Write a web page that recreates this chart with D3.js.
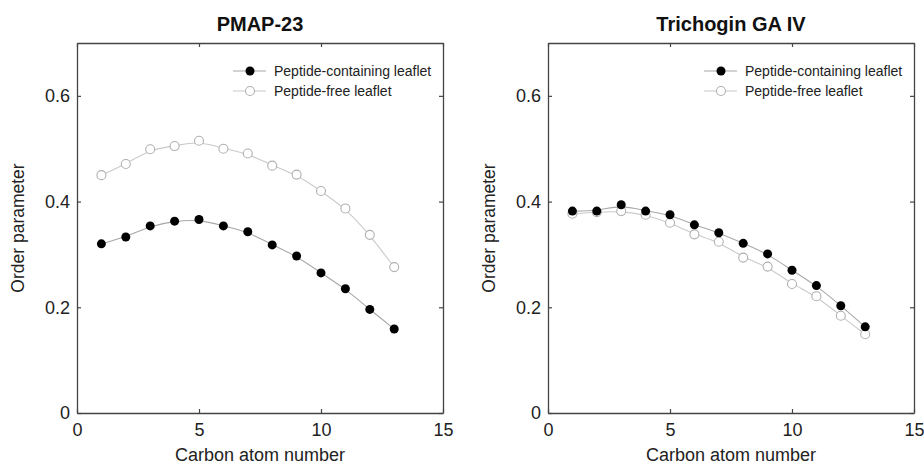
<!DOCTYPE html>
<html>
<head>
<meta charset="utf-8">
<script src="https://cdn.jsdelivr.net/npm/d3@7"></script>
<style>
  body { margin: 0; background: #fff; }
  text { font-family: "Liberation Sans", Arial, sans-serif; fill: #222; }
</style>
</head>
<body>
<div id="chart"></div>
<script>
// carbon positions along the chain
const carbonAtoms = [1, 2, 3, 4, 5, 6, 7, 8, 9, 10, 11, 12, 13];

// PMAP-23
const pmapContaining = [0.320, 0.333, 0.354, 0.363, 0.366, 0.354, 0.343, 0.318, 0.297, 0.265, 0.235, 0.196, 0.159];
const pmapFree = [0.450, 0.471, 0.499, 0.505, 0.515, 0.500, 0.491, 0.468, 0.451, 0.420, 0.387, 0.337, 0.276];

// Trichogin GA IV
const trichContaining = [0.382, 0.382, 0.394, 0.382, 0.375, 0.356, 0.341, 0.321, 0.301, 0.270, 0.241, 0.203, 0.163];
const trichFree = [0.377, 0.380, 0.382, 0.375, 0.360, 0.338, 0.324, 0.294, 0.277, 0.244, 0.221, 0.184, 0.149];

const xTicks = [0, 5, 10, 15];
const yTicks = [0, 0.2, 0.4, 0.6];
const legendLabels = ['Peptide-containing leaflet', 'Peptide-free leaflet'];

const width = 924, height = 465;
const svg = d3.select('#chart').append('svg').attr('width', width).attr('height', height);

const panels = [
  { title: 'PMAP-23', left: 77, containing: pmapContaining, free: pmapFree },
  { title: 'Trichogin GA IV', left: 548, containing: trichContaining, free: trichFree }
];

const plotTop = 43, plotBottom = 413, plotW = 366;

panels.forEach(p => {
  const x = d3.scaleLinear().domain([0, 15]).range([p.left, p.left + plotW]);
  const y = d3.scaleLinear().domain([0, 0.7]).range([plotBottom, plotTop]);

  const g = svg.append('g');

  // frame + ticks (all ticks point inward)
  const axisColor = '#444';
  const bx = g.append('g').attr('transform', `translate(0,${plotBottom})`)
    .call(d3.axisBottom(x).tickValues(xTicks).tickSizeInner(-4).tickSizeOuter(0).tickPadding(10).tickFormat(d3.format('d')));
  const lx = g.append('g').attr('transform', `translate(${p.left},0)`)
    .call(d3.axisLeft(y).tickValues(yTicks).tickSizeInner(-4).tickSizeOuter(0).tickPadding(7).tickFormat(d => d === 0 ? '0' : d3.format('.1f')(d)));
  const tx = g.append('g').attr('transform', `translate(0,${plotTop})`)
    .call(d3.axisTop(x).tickValues(xTicks).tickSizeInner(-4).tickSizeOuter(0).tickFormat(''));
  const rx = g.append('g').attr('transform', `translate(${p.left + plotW},0)`)
    .call(d3.axisRight(y).tickValues(yTicks).tickSizeInner(-4).tickSizeOuter(0).tickFormat(''));

  [bx, lx, tx, rx].forEach(a => {
    a.select('.domain').attr('stroke', axisColor).attr('stroke-width', 1.3);
    a.selectAll('.tick line').attr('stroke', axisColor).attr('stroke-width', 1.2);
    a.selectAll('.tick text').style('font-size', '18px').style('fill', '#222')
      .style('font-family', '"Liberation Sans", Arial, sans-serif');
  });

  // title
  g.append('text').attr('x', p.left + plotW / 2).attr('y', 31)
    .attr('text-anchor', 'middle').style('font-size', '20px').style('font-weight', 'bold').style('fill', '#111')
    .text(p.title);

  // axis labels
  g.append('text').attr('x', p.left + plotW / 2).attr('y', 461)
    .attr('text-anchor', 'middle').style('font-size', '18px')
    .text('Carbon atom number');
  g.append('text').attr('transform', `translate(${p.left - 59},${(plotTop + plotBottom) / 2}) rotate(-90)`)
    .attr('text-anchor', 'middle').attr('dy', '0.35em').style('font-size', '17.5px')
    .text('Order parameter');

  const line = d3.line().x((d, i) => x(carbonAtoms[i])).y(d => y(d)).curve(d3.curveBasis);

  // peptide-free (open, light gray)
  g.append('path').datum(p.free).attr('d', line)
    .attr('fill', 'none').attr('stroke', '#cacaca').attr('stroke-width', 1.1);
  g.selectAll('.free').data(p.free).join('circle').attr('class', 'free')
    .attr('cx', (d, i) => x(carbonAtoms[i])).attr('cy', d => y(d)).attr('r', 4.5)
    .attr('fill', '#fff').attr('stroke', '#b0b0b0').attr('stroke-width', 1.1);

  // peptide-containing (filled, black)
  g.append('path').datum(p.containing).attr('d', line)
    .attr('fill', 'none').attr('stroke', '#a8a8a8').attr('stroke-width', 1.1);
  g.selectAll('.cont').data(p.containing).join('circle').attr('class', 'cont')
    .attr('cx', (d, i) => x(carbonAtoms[i])).attr('cy', d => y(d)).attr('r', 4.5)
    .attr('fill', '#000');

  // legend
  const leg = g.append('g').attr('transform', `translate(${p.left},${plotTop})`);
  legendLabels.forEach((lab, i) => {
    const ly = 28 + i * 20;
    leg.append('line').attr('x1', 156).attr('x2', 189).attr('y1', ly).attr('y2', ly)
      .attr('stroke', i === 0 ? '#a8a8a8' : '#cacaca').attr('stroke-width', 1.1);
    leg.append('circle').attr('cx', 173).attr('cy', ly).attr('r', 4.5)
      .attr('fill', i === 0 ? '#000' : '#fff').attr('stroke', i === 0 ? 'none' : '#b0b0b0').attr('stroke-width', 1.1);
    leg.append('text').attr('x', 197).attr('y', ly).attr('dy', '0.35em')
      .style('font-size', '14px').text(lab);
  });
});
</script>
</body>
</html>
